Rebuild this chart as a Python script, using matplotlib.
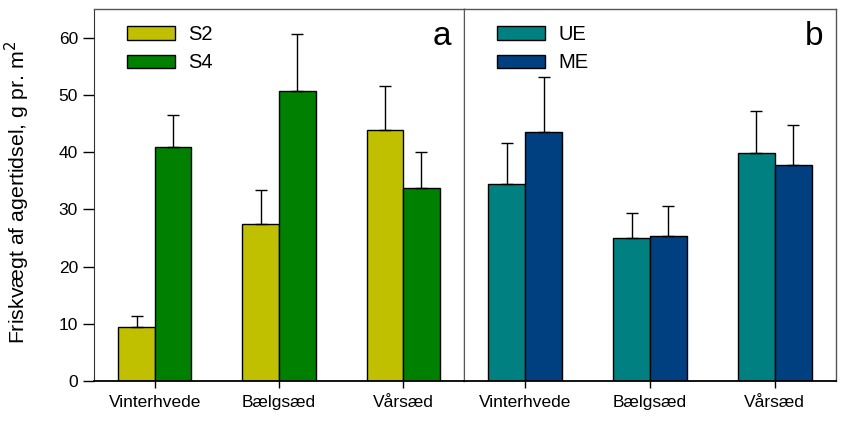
import numpy as np
import matplotlib.pyplot as plt
from matplotlib.patches import Patch

plt.rcParams['font.family'] = ['Liberation Sans', 'DejaVu Sans']

crops = ['Vinterhvede', 'Bælgsæd', 'Vårsæd']

# panel a: sowing time
s2 = [9.4, 27.4, 43.8]
s2_err = [2.0, 5.9, 7.7]
s4 = [40.8, 50.7, 33.7]
s4_err = [5.7, 10.0, 6.3]

# panel b: treatment
ue = [34.5, 25.0, 39.8]
ue_err = [7.1, 4.4, 7.3]
me = [43.5, 25.3, 37.8]
me_err = [9.6, 5.2, 6.9]

fig = plt.figure(figsize=(8.42, 4.28), dpi=100)
ax1 = fig.add_axes([94/842, 1 - 381/428, 370/842, 372/428])
ax2 = fig.add_axes([464/842, 1 - 381/428, 372/842, 372/428])

x = np.arange(len(crops))
w = 0.295


def draw_panel(ax, v1, e1, v2, e2, c1, c2, names, letter):
    err_kw = dict(elinewidth=1, capsize=4.3, capthick=1, ecolor='black')
    ax.bar(x - w/2, v1, w, yerr=[np.zeros(3), e1], color=c1,
           edgecolor='black', linewidth=1, error_kw=err_kw, zorder=2)
    ax.bar(x + w/2, v2, w, yerr=[np.zeros(3), e2], color=c2,
           edgecolor='black', linewidth=1, error_kw=err_kw, zorder=2)
    ax.set_xlim(-0.49, 2.49)
    ax.set_ylim(0, 65)
    ax.set_xticks(x)
    ax.set_xticklabels(crops, fontsize=12.5)
    ax.tick_params(axis='x', direction='out', length=5, width=1, pad=5)
    for s in ['top', 'right']:
        ax.spines[s].set_color('#555555')
        ax.spines[s].set_linewidth(1)
    ax.spines['bottom'].set_linewidth(1.3)
    ax.spines['left'].set_color('#333333')
    handles = [Patch(facecolor=c1, edgecolor='black', label=names[0]),
               Patch(facecolor=c2, edgecolor='black', label=names[1])]
    ax.legend(handles=handles, loc='upper left', bbox_to_anchor=(0.04, 1.005),
              frameon=False, fontsize=14.5, handlelength=2.4, handleheight=0.65,
              labelspacing=0.45, handletextpad=0.65)
    ax.text(0.965, 0.925, letter, transform=ax.transAxes, fontsize=24,
            ha='right', va='center')


draw_panel(ax1, s2, s2_err, s4, s4_err, '#C0C000', '#008000', ['S2', 'S4'], 'a')
draw_panel(ax2, ue, ue_err, me, me_err, '#008080', '#003F80', ['UE', 'ME'], 'b')

ax1.set_yticks(range(0, 61, 10))
ax1.tick_params(axis='y', direction='out', length=8, width=1, labelsize=12.5)
ax1.set_ylabel('Friskvægt af agertidsel, g pr. m$^2$', fontsize=15.3)
ax1.yaxis.set_label_coords(-0.168, 0.506)

ax2.set_yticks([])
ax2.spines['left'].set_color('#555555')

fig.savefig('out.png', dpi=100)
